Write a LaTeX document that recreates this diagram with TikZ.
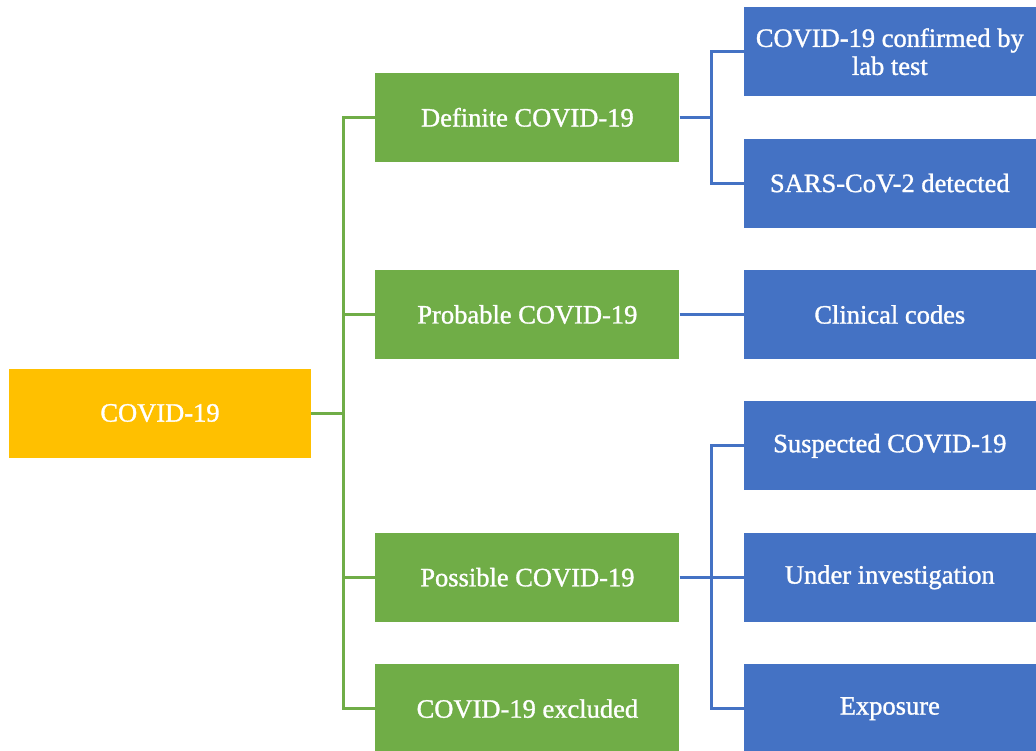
\documentclass[tikz,border=0pt]{standalone}
\usepackage{fontspec}
\setmainfont{Liberation Serif}[BoldFont=Liberation Serif,BoldFeatures={FakeBold=1.2}]
\usepackage{xcolor}
\usetikzlibrary{positioning,calc}
\definecolor{rootorange}{HTML}{FFC000}
\definecolor{catgreen}{HTML}{70AD47}
\definecolor{srcblue}{HTML}{4472C4}

\begin{document}
\begin{tikzpicture}[x=1pt,y=1pt,
  box/.style={rectangle,minimum height=89pt,inner sep=0pt,text=white,
              font=\fontsize{26.5}{28}\selectfont\bfseries,align=center},
  root/.style={box,fill=rootorange,minimum width=302pt},
  cat/.style={box,fill=catgreen,minimum width=304pt},
  src/.style={box,fill=srcblue,minimum width=292pt},
  gline/.style={draw=catgreen,line width=3pt},
  bline/.style={draw=srcblue,line width=3pt},
  node distance=42pt and 64pt
]
\useasboundingbox (0,0) rectangle (1036,751);
\node[src,anchor=north east] (conf) at (1036,744) {COVID-19 confirmed by\\lab test};
\node[src,below=of conf] (sars) {SARS-CoV-2 detected};
\node[src,below=of sars] (clin) {Clinical codes};
\node[src,below=of clin] (susp) {Suspected COVID-19};
\node[src,below=of susp] (inv) {Under investigation};
\node[src,below=of inv] (expo) {Exposure};
\node[cat,anchor=east] (def) at ($(conf.south west)!0.5!(sars.north west)+(-64,0)$) {Definite COVID-19};
\node[cat,left=of clin] (prob) {Probable COVID-19};
\node[cat,left=of inv] (poss) {Possible COVID-19};
\node[cat,left=of expo] (excl) {COVID-19 excluded};
\node[root,anchor=east] (covid) at ($(def.west)!0.5!(excl.west)+(-64,0)$) {COVID-19};
% tree on the left
\draw[gline] (covid.east) -- ++(32,0);
\draw[gline] (def.west) -- ++(-32,0) |- (excl.west);
\draw[gline] (prob.west) -- ++(-32,0);
\draw[gline] (poss.west) -- ++(-32,0);
% sources on the right
\draw[bline] (def.east) -- ++(32,0);
\draw[bline] (conf.west) -- ++(-32,0) |- (sars.west);
\draw[bline] (prob) -- (clin);
\draw[bline] (poss) -- (inv);
\draw[bline] (susp.west) -- ++(-32,0) |- (expo.west);
\end{tikzpicture}
\end{document}
